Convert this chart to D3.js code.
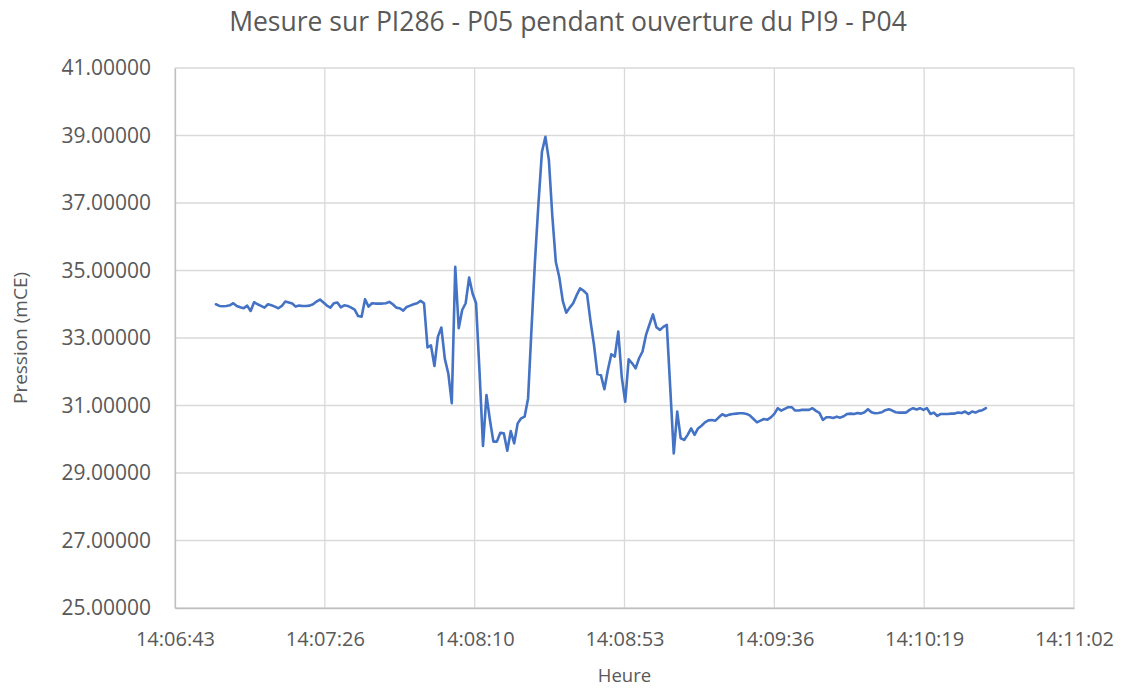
<!DOCTYPE html>
<html>
<head>
<meta charset="utf-8">
<script src="https://cdn.jsdelivr.net/npm/d3@7"></script>
<style>
  body { margin: 0; background: #ffffff; }
  #graf text { font-family: 'Open Sans', sans-serif; fill: #595959; }
</style>
</head>
<body>
<div id="graf"></div>
<script>
// heure de chaque mesure
const heures = [
  '14:06:55', '14:06:56', '14:06:57', '14:06:58', '14:06:59',
  '14:07:00', '14:07:01', '14:07:02', '14:07:03', '14:07:04', '14:07:05', '14:07:06', '14:07:07', '14:07:08', '14:07:09',
  '14:07:10', '14:07:11', '14:07:12', '14:07:13', '14:07:14', '14:07:15', '14:07:16', '14:07:17', '14:07:18', '14:07:19',
  '14:07:20', '14:07:21', '14:07:22', '14:07:23', '14:07:24', '14:07:25', '14:07:26', '14:07:27', '14:07:28', '14:07:29',
  '14:07:30', '14:07:31', '14:07:32', '14:07:33', '14:07:34', '14:07:35', '14:07:36', '14:07:37', '14:07:38', '14:07:39',
  '14:07:40', '14:07:41', '14:07:42', '14:07:43', '14:07:44', '14:07:45', '14:07:46', '14:07:47', '14:07:48', '14:07:49',
  '14:07:50', '14:07:51', '14:07:52', '14:07:53', '14:07:54', '14:07:55', '14:07:56', '14:07:57', '14:07:58', '14:07:59',
  '14:08:00', '14:08:01', '14:08:02', '14:08:03', '14:08:04', '14:08:05', '14:08:06', '14:08:07', '14:08:08', '14:08:09',
  '14:08:10', '14:08:11', '14:08:12', '14:08:13', '14:08:14', '14:08:15', '14:08:16', '14:08:17', '14:08:18', '14:08:19',
  '14:08:20', '14:08:21', '14:08:22', '14:08:23', '14:08:24', '14:08:25', '14:08:26', '14:08:27', '14:08:28', '14:08:29',
  '14:08:30', '14:08:31', '14:08:32', '14:08:33', '14:08:34', '14:08:35', '14:08:36', '14:08:37', '14:08:38', '14:08:39',
  '14:08:40', '14:08:41', '14:08:42', '14:08:43', '14:08:44', '14:08:45', '14:08:46', '14:08:47', '14:08:48', '14:08:49',
  '14:08:50', '14:08:51', '14:08:52', '14:08:53', '14:08:54', '14:08:55', '14:08:56', '14:08:57', '14:08:58', '14:08:59',
  '14:09:00', '14:09:01', '14:09:02', '14:09:03', '14:09:04', '14:09:05', '14:09:06', '14:09:07', '14:09:08', '14:09:09',
  '14:09:10', '14:09:11', '14:09:12', '14:09:13', '14:09:14', '14:09:15', '14:09:16', '14:09:17', '14:09:18', '14:09:19',
  '14:09:20', '14:09:21', '14:09:22', '14:09:23', '14:09:24', '14:09:25', '14:09:26', '14:09:27', '14:09:28', '14:09:29',
  '14:09:30', '14:09:31', '14:09:32', '14:09:33', '14:09:34', '14:09:35', '14:09:36', '14:09:37', '14:09:38', '14:09:39',
  '14:09:40', '14:09:41', '14:09:42', '14:09:43', '14:09:44', '14:09:45', '14:09:46', '14:09:47', '14:09:48', '14:09:49',
  '14:09:50', '14:09:51', '14:09:52', '14:09:53', '14:09:54', '14:09:55', '14:09:56', '14:09:57', '14:09:58', '14:09:59',
  '14:10:00', '14:10:01', '14:10:02', '14:10:03', '14:10:04', '14:10:05', '14:10:06', '14:10:07', '14:10:08', '14:10:09',
  '14:10:10', '14:10:11', '14:10:12', '14:10:13', '14:10:14', '14:10:15', '14:10:16', '14:10:17', '14:10:18', '14:10:19',
  '14:10:20', '14:10:21', '14:10:22', '14:10:23', '14:10:24', '14:10:25', '14:10:26', '14:10:27', '14:10:28', '14:10:29',
  '14:10:30', '14:10:31', '14:10:32', '14:10:33', '14:10:34', '14:10:35', '14:10:36', '14:10:37'
]

// pression mesuree (mCE)
const pression = [
  34.00, 33.95, 33.94, 33.95, 33.97, 34.03, 33.95, 33.91, 33.88, 33.96,
  33.80, 34.06, 34.00, 33.95, 33.90, 34.00, 33.97, 33.93, 33.88, 33.95,
  34.08, 34.05, 34.02, 33.93, 33.96, 33.95, 33.95, 33.96, 34.00, 34.08,
  34.14, 34.05, 33.96, 33.90, 34.03, 34.05, 33.91, 33.97, 33.95, 33.90,
  33.84, 33.65, 33.63, 34.15, 33.93, 34.03, 34.02, 34.02, 34.02, 34.03,
  34.07, 34.00, 33.90, 33.88, 33.81, 33.92, 33.96, 34.00, 34.03, 34.10,
  34.03, 32.72, 32.78, 32.17, 33.04, 33.31, 32.38, 31.95, 31.07, 35.11,
  33.29, 33.83, 34.03, 34.79, 34.32, 34.03, 32.00, 29.80, 31.31, 30.57,
  29.93, 29.93, 30.19, 30.18, 29.66, 30.24, 29.88, 30.47, 30.62, 30.67,
  31.21, 33.30, 35.30, 37.00, 38.52, 38.96, 38.27, 36.60, 35.25, 34.80,
  34.10, 33.75, 33.90, 34.03, 34.27, 34.47, 34.40, 34.30, 33.50, 32.80,
  31.93, 31.90, 31.48, 32.05, 32.52, 32.45, 33.19, 31.85, 31.11, 32.37,
  32.25, 32.10, 32.40, 32.60, 33.09, 33.40, 33.70, 33.32, 33.24, 33.33,
  33.39, 31.50, 29.58, 30.82, 30.03, 29.98, 30.13, 30.32, 30.13, 30.32,
  30.40, 30.50, 30.56, 30.57, 30.55, 30.65, 30.74, 30.69, 30.73, 30.75,
  30.76, 30.77, 30.77, 30.75, 30.70, 30.60, 30.50, 30.55, 30.60, 30.58,
  30.65, 30.75, 30.92, 30.85, 30.90, 30.95, 30.95, 30.85, 30.85, 30.87,
  30.87, 30.87, 30.92, 30.84, 30.78, 30.57, 30.65, 30.65, 30.63, 30.67,
  30.64, 30.68, 30.75, 30.76, 30.75, 30.78, 30.76, 30.80, 30.89, 30.80,
  30.77, 30.78, 30.80, 30.86, 30.89, 30.85, 30.80, 30.79, 30.79, 30.79,
  30.87, 30.92, 30.88, 30.92, 30.87, 30.92, 30.75, 30.79, 30.69, 30.75,
  30.75, 30.75, 30.76, 30.76, 30.79, 30.78, 30.82, 30.75, 30.82, 30.79,
  30.84, 30.86, 30.92
]

// axe des x en fraction de jour (comme Excel)
const xTicks = [0.588, 0.5885, 0.589, 0.5895, 0.59, 0.5905, 0.591]
const xTickLabels = ['14:06:43', '14:07:26', '14:08:10', '14:08:53', '14:09:36', '14:10:19', '14:11:02']
const yTicks = [25, 27, 29, 31, 33, 35, 37, 39, 41]

const titre = 'Mesure sur PI286 - P05 pendant ouverture du PI9 - P04'
const tituloX = 'Heure'
const tituloY = 'Pression (mCE)'

const anchoTotal = 1126
const altoTotal = 688

const margin = {
  top: 68,
  bottom: 80,
  left: 175,
  right: 52,
}

const ancho = anchoTotal - margin.left - margin.right
const alto = altoTotal - margin.top - margin.bottom

const svg = d3.select('#graf')
  .append('svg')
  .attr('width', anchoTotal)
  .attr('height', altoTotal)

const g = svg
  .append('g')
  .attr('transform', `translate(${margin.left}, ${margin.top})`)

const enJour = (h) => {
  const p = h.split(':').map(Number)
  return (p[0] * 3600 + p[1] * 60 + p[2]) / 86400
}

const datos = heures.map((h, i) => ({ t: enJour(h), v: pression[i] }))

const x = d3.scaleLinear().domain([xTicks[0], xTicks[xTicks.length - 1]]).range([0, ancho])
const y = d3.scaleLinear().domain([yTicks[0], yTicks[yTicks.length - 1]]).range([alto, 0])

// grille
g.append('g')
  .selectAll('line')
  .data(yTicks)
  .join('line')
  .attr('x1', 0)
  .attr('x2', ancho)
  .attr('y1', (d) => y(d))
  .attr('y2', (d) => y(d))
  .attr('stroke', '#d9d9d9')
  .attr('stroke-width', 1.3)

g.append('g')
  .selectAll('line')
  .data(xTicks)
  .join('line')
  .attr('x1', (d) => x(d))
  .attr('x2', (d) => x(d))
  .attr('y1', 0)
  .attr('y2', alto)
  .attr('stroke', '#d9d9d9')
  .attr('stroke-width', 1.3)

// axes
g.append('g')
  .attr('transform', `translate(0, ${alto})`)
  .call(
    d3.axisBottom(x)
      .tickValues(xTicks)
      .tickSize(0)
      .tickPadding(24)
      .tickFormat((d, i) => xTickLabels[i])
  )
  .call((a) => a.select('.domain').attr('stroke', '#bfbfbf').attr('stroke-width', 1.3))
  .selectAll('text')
  .attr('font-size', 20)

g.append('g')
  .call(
    d3.axisLeft(y)
      .tickValues(yTicks)
      .tickSize(0)
      .tickPadding(24)
      .tickFormat(d3.format('.5f'))
  )
  .call((a) => a.select('.domain').attr('stroke', '#bfbfbf').attr('stroke-width', 1.3))
  .selectAll('text')
  .attr('font-size', 21)

// courbe
const linea = d3.line()
  .x((d) => x(d.t))
  .y((d) => y(d.v))

g.append('path')
  .datum(datos)
  .attr('d', linea)
  .attr('fill', 'none')
  .attr('stroke', '#4472c4')
  .attr('stroke-width', 2.6)
  .attr('stroke-linejoin', 'round')
  .attr('stroke-linecap', 'round')

// titres
svg.append('text')
  .attr('x', 568)
  .attr('y', 31)
  .attr('text-anchor', 'middle')
  .attr('font-size', 26.5)
  .text(titre)

svg.append('text')
  .attr('x', margin.left + ancho / 2)
  .attr('y', 682)
  .attr('text-anchor', 'middle')
  .attr('font-size', 18.5)
  .text(tituloX)

svg.append('text')
  .attr('transform', `translate(27, ${margin.top + alto / 2}) rotate(-90)`)
  .attr('text-anchor', 'middle')
  .attr('font-size', 19)
  .text(tituloY)
</script>
</body>
</html>
